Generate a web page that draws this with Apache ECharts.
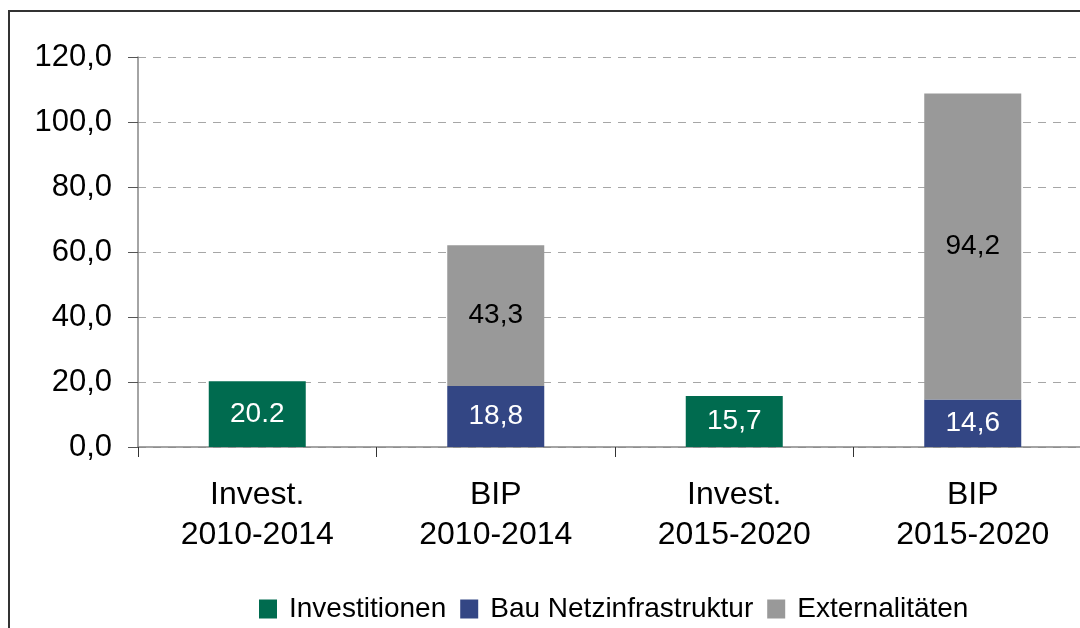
<!DOCTYPE html>
<html>
<head>
<meta charset="utf-8">
<script src="https://cdn.jsdelivr.net/npm/echarts@6/dist/echarts.min.js"></script>
<style>
html,body{margin:0;padding:0;background:#fff;overflow:hidden;width:1080px;height:628px;}
#chart{width:1110px;height:628px;}
</style>
</head>
<body>
<div id="chart"></div>
<script>
const categories = ["Invest.\n2010-2014", "BIP\n2010-2014", "Invest.\n2015-2020", "BIP\n2015-2020"];
const seriesNames = ["Investitionen", "Bau Netzinfrastruktur", "Externalitäten"];
const investitionen = [20.2, null, 15.7, null];
const bauNetz = [null, 18.8, null, 14.6];
const externalitaeten = [null, 43.3, null, 94.2];
const investLabels = ["20.2", "", "15,7", ""];
const yTicks = [0, 20, 40, 60, 80, 100, 120];

const chart = echarts.init(document.getElementById('chart'));
const FONT = "'Liberation Sans', Arial, sans-serif";
const commaFmt = v => v.toFixed(1).replace('.', ',');

function mkSeries(name, data, color, labelColor, fmt) {
  return {
    name: name, type: 'bar', stack: 'total', data: data, barWidth: 97,
    itemStyle: { color: color },
    label: {
      show: true, position: 'inside', color: labelColor,
      fontFamily: FONT, fontSize: 28,
      formatter: fmt
    }
  };
}

chart.setOption({
  animation: false,
  backgroundColor: '#fff',
  graphic: [{
    type: 'rect', shape: { x: 9, y: 11, width: 1200, height: 800 },
    style: { fill: 'none', stroke: '#333', lineWidth: 2 }, z: 100
  }],
  grid: { left: 138, top: 57, width: 954, height: 390, containLabel: false },
  legend: {
    top: 590, left: 254,
    itemWidth: 18, itemHeight: 19, itemGap: 14,
    icon: 'rect',
    textStyle: { fontFamily: FONT, fontSize: 28, color: '#000', padding: [0, 0, 0, 7] },
    data: seriesNames
  },
  xAxis: {
    type: 'category', data: categories,
    axisLine: { lineStyle: { color: '#868686', width: 1.5 } },
    axisTick: { show: true, length: 10, alignWithLabel: false, lineStyle: { color: '#333' } },
    axisLabel: { color: '#000', fontFamily: FONT, fontSize: 32, lineHeight: 40, margin: 28, interval: 0 }
  },
  yAxis: {
    type: 'value', min: yTicks[0], max: yTicks[yTicks.length - 1], interval: 20,
    axisLine: { show: true, lineStyle: { color: '#868686', width: 1.5 } },
    axisTick: { show: true, length: 10, lineStyle: { color: '#555' } },
    splitLine: { show: true, lineStyle: { color: '#a6a6a6', type: [8, 7], width: 1 } },
    axisLabel: { color: '#000', fontFamily: FONT, fontSize: 31, margin: 26, formatter: commaFmt }
  },
  series: [
    mkSeries(seriesNames[0], investitionen, '#006b4f', '#fff', p => investLabels[p.dataIndex]),
    mkSeries(seriesNames[1], bauNetz, '#334684', '#fff', p => commaFmt(p.value)),
    mkSeries(seriesNames[2], externalitaeten, '#999999', '#000', p => commaFmt(p.value))
  ]
});
</script>
</body>
</html>
